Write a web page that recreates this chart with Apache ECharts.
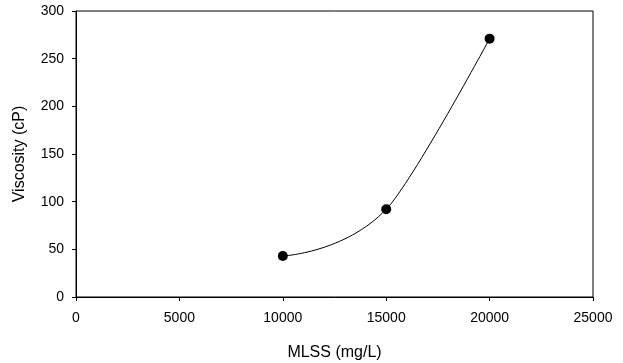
<!DOCTYPE html>
<html>
<head>
<meta charset="utf-8">
<script src="https://cdn.jsdelivr.net/npm/echarts@6/dist/echarts.min.js"></script>
<style>
  html, body { margin: 0; padding: 0; background: #fff; }
  #chart { width: 623px; height: 363px; }
</style>
</head>
<body>
<div id="chart"></div>
<script>
const mlss = [10000, 15000, 20000];
const viscosity = [43, 92, 271];

const chart = echarts.init(document.getElementById("chart"));
const font = "'Liberation Sans', Arial, sans-serif";
const points = mlss.map((x, i) => [x, viscosity[i]]);

const axisCommon = {
  axisLine: { show: true, lineStyle: { color: "#000", width: 1 } },
  axisTick: { show: true, inside: false, length: 4, lineStyle: { color: "#000" } },
  splitLine: { show: false },
  axisLabel: { color: "#000", fontFamily: font, fontSize: 14, formatter: (v) => String(v) },
  nameTextStyle: { color: "#000", fontFamily: font, fontSize: 16 },
  nameLocation: "middle",
};

// the fitted curve bends more on the left half than on the right half,
// so it is drawn twice with different smoothing, each showing one half
const split = (mlss[1] - mlss[0]) / (mlss[2] - mlss[0]);
const curve = (smooth, leftHalf) => {
  const on = "#000", off = "rgba(0,0,0,0)";
  const a = leftHalf ? on : off, b = leftHalf ? off : on;
  return {
    type: "line",
    data: points,
    smooth,
    symbol: "none",
    silent: true,
    lineStyle: {
      width: 1,
      color: new echarts.graphic.LinearGradient(0, 0, 1, 0, [
        { offset: 0, color: a },
        { offset: split, color: a },
        { offset: split, color: b },
        { offset: 1, color: b },
      ]),
    },
  };
};

const option = {
  animation: false,
  grid: {
    left: 76, right: 30, top: 11, bottom: 66,
    outerBoundsMode: "none",
    containLabel: false,
    show: true, borderColor: "#000", borderWidth: 1,
  },
  xAxis: {
    ...axisCommon,
    type: "value",
    min: 0, max: 25000, interval: 5000,
    name: "MLSS (mg/L)",
    nameGap: 48,
    axisLabel: { ...axisCommon.axisLabel, margin: 14 },
  },
  yAxis: {
    ...axisCommon,
    type: "value",
    min: 0, max: 300, interval: 50,
    name: "Viscosity (cP)",
    nameGap: 48,
    axisLabel: { ...axisCommon.axisLabel, margin: 12 },
  },
  series: [
    curve(0.55, true),
    curve(0.2, false),
    {
      type: "scatter",
      data: points,
      symbol: "circle",
      symbolSize: 10,
      itemStyle: { color: "#000", opacity: 1 },
    },
  ],
};
chart.setOption(option);
</script>
</body>
</html>
